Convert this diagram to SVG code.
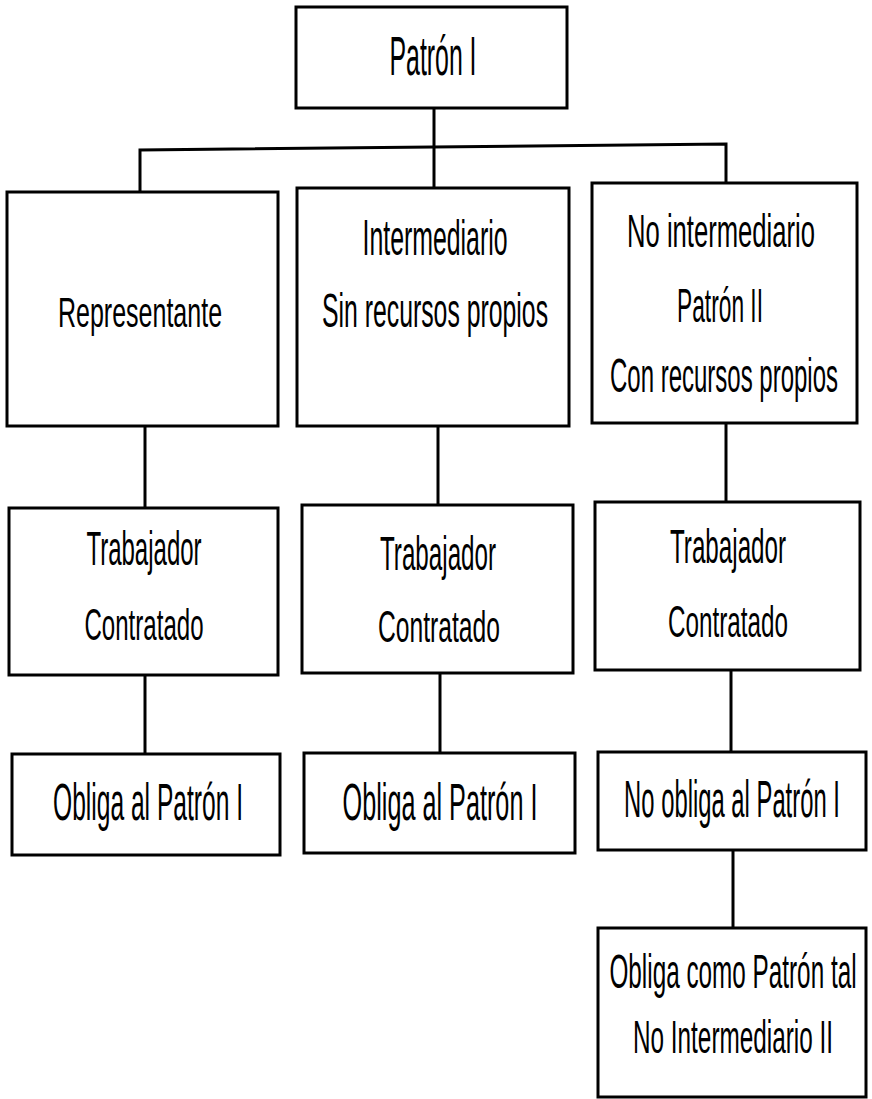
<svg xmlns="http://www.w3.org/2000/svg" width="872" height="1099" viewBox="0 0 872 1099">
<style>
.box{fill:#fff;stroke:#000;stroke-width:3}
.ln{fill:none;stroke:#000;stroke-width:3}
.t{font-family:"Liberation Sans",Arial,sans-serif;font-size:48px;fill:#000;text-anchor:middle}
</style>
<rect width="872" height="1099" fill="#fff"/>
<g id="connectors">
<path class="ln" d="M434,108 V188"/>
<path class="ln" d="M140,191 V150 L726,144 V183"/>
<path class="ln" d="M145,426 V508"/>
<path class="ln" d="M145,675 V754"/>
<path class="ln" d="M438,426 V505"/>
<path class="ln" d="M440,673 V753"/>
<path class="ln" d="M726,423 V502"/>
<path class="ln" d="M731,670 V752"/>
<path class="ln" d="M733,850 V928"/>
</g>
<g id="patron1">
<rect class="box" x="296" y="7" width="271" height="101"/>
<text class="t" transform="translate(433,75) scale(0.444,1)" style="font-size:56px">Patrón I</text>
</g>
<g id="representante">
<rect class="box" x="7" y="192" width="271" height="234"/>
<text class="t" transform="translate(140,327) scale(0.582,1)" style="font-size:43px">Representante</text>
</g>
<g id="intermediario">
<rect class="box" x="297" y="188" width="272" height="238"/>
<text class="t" transform="translate(435,255) scale(0.497,1)" style="font-size:50px">Intermediario</text>
<text class="t" transform="translate(435,327) scale(0.517,1)">Sin recursos propios</text>
</g>
<g id="no-intermediario">
<rect class="box" x="592" y="183" width="265" height="240"/>
<text class="t" transform="translate(721,247) scale(0.557,1)" style="font-size:46px">No intermediario</text>
<text class="t" transform="translate(720,322) scale(0.474,1)">Patrón II</text>
<text class="t" transform="translate(724,392) scale(0.5,1)">Con recursos propios</text>
</g>
<g id="trabajador-1">
<rect class="box" x="9" y="508" width="269" height="167"/>
<text class="t" transform="translate(144,565) scale(0.5,1)">Trabajador</text>
<text class="t" transform="translate(144,640) scale(0.535,1)" style="font-size:45px">Contratado</text>
</g>
<g id="trabajador-2">
<rect class="box" x="302" y="505" width="271" height="168"/>
<text class="t" transform="translate(438,570) scale(0.504,1)">Trabajador</text>
<text class="t" transform="translate(439,642) scale(0.548,1)" style="font-size:45px">Contratado</text>
</g>
<g id="trabajador-3">
<rect class="box" x="595" y="502" width="265" height="168"/>
<text class="t" transform="translate(728,563) scale(0.504,1)">Trabajador</text>
<text class="t" transform="translate(728,637) scale(0.539,1)" style="font-size:45px">Contratado</text>
</g>
<g id="obliga-1">
<rect class="box" x="12" y="754" width="268" height="101"/>
<text class="t" transform="translate(148,820) scale(0.473,1)" style="font-size:52px">Obliga al Patrón I</text>
</g>
<g id="obliga-2">
<rect class="box" x="304" y="753" width="271" height="100"/>
<text class="t" transform="translate(440,820) scale(0.485,1)" style="font-size:52px">Obliga al Patrón I</text>
</g>
<g id="no-obliga">
<rect class="box" x="598" y="752" width="268" height="98"/>
<text class="t" transform="translate(732,817) scale(0.458,1)" style="font-size:52px">No obliga al Patrón I</text>
</g>
<g id="obliga-como">
<rect class="box" x="598" y="928" width="268" height="169"/>
<text class="t" transform="translate(733,988) scale(0.496,1)" style="font-size:49px">Obliga como Patrón tal</text>
<text class="t" transform="translate(733,1053) scale(0.529,1)" style="font-size:46px">No Intermediario II</text>
</g>
</svg>
